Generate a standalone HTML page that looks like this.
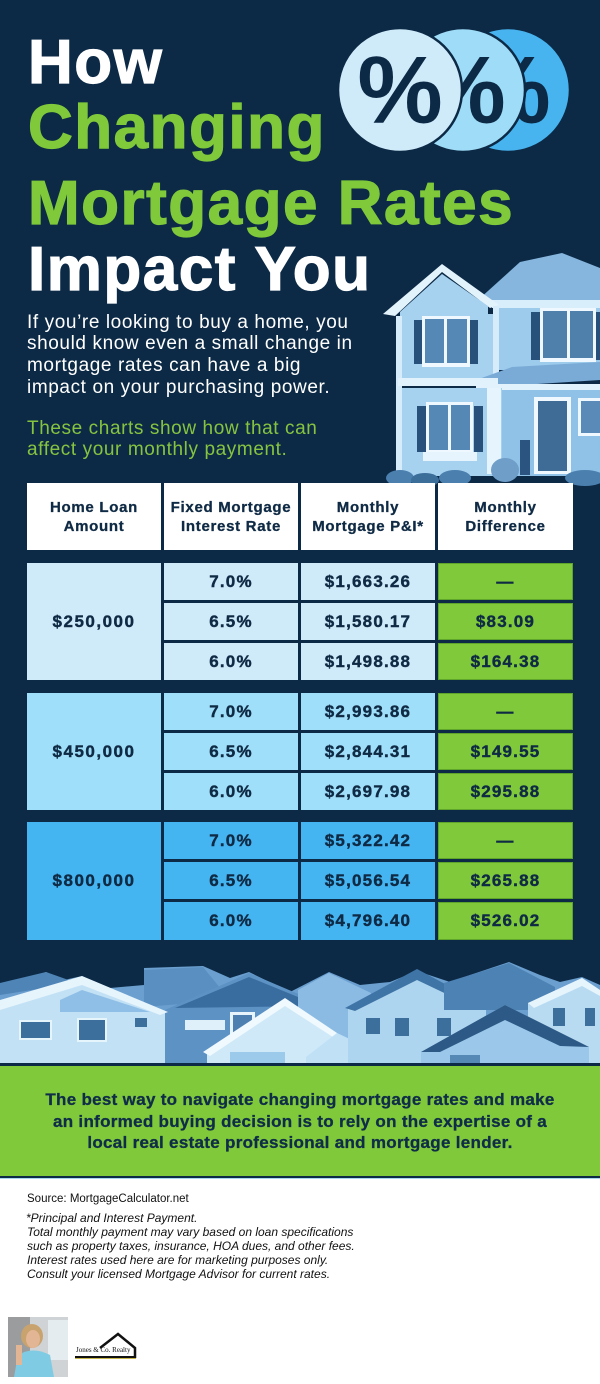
<!DOCTYPE html>
<html><head><meta charset="utf-8">
<style>
*{margin:0;padding:0;box-sizing:border-box}
html,body{width:600px;height:1384px;overflow:hidden}
body{position:relative;background:#0c2a46;font-family:"Liberation Sans",sans-serif}
.abs{position:absolute}
.t{position:absolute;left:28px;font-weight:bold;font-size:62px;line-height:62px;letter-spacing:1.5px;white-space:nowrap;-webkit-text-stroke:1.2px currentColor}
.intro{position:absolute;left:27px;font-size:19px;line-height:21.7px;letter-spacing:0.6px;white-space:nowrap}
.c{position:absolute;display:flex;align-items:center;justify-content:center;text-align:center;color:#0f2a44;font-weight:bold}
.h{background:#fff;font-size:15px;line-height:19px;letter-spacing:0.7px;top:483px;height:67px;-webkit-text-stroke:0.3px #0f2a44}
.d{font-size:17px;letter-spacing:1.2px;-webkit-text-stroke:0.4px #0f2a44}
.b1{background:#cfeaf8}.b2{background:#a0dff9}.b3{background:#45b5f2}
.g{background:#7fc93a;box-shadow:inset 0 0 0 1px #5fa52c}
.banner{position:absolute;left:0;top:1066px;width:600px;height:110px;background:#80c93b;color:#0f2d48;font-weight:bold;font-size:17px;line-height:21.5px;letter-spacing:0.3px;text-align:center;padding-top:23px;-webkit-text-stroke:0.3px #0f2d48}
.foot{position:absolute;left:0;top:1176px;width:600px;height:208px;background:#fff;border-top:2px solid #0c2a46}
.fl{position:absolute;left:27px;font-size:12px;line-height:14px;color:#111;white-space:nowrap}
</style></head><body>

<svg class="abs" style="left:0;top:0" width="600" height="1384" viewBox="0 0 600 1384">
<defs>
<clipPath id="k1"><circle cx="400" cy="90" r="62"/></clipPath>
<clipPath id="k2"><circle cx="463" cy="90" r="62"/></clipPath>
<clipPath id="k3"><circle cx="508" cy="90" r="62"/></clipPath>
</defs>
<!-- percent circles -->
<circle cx="508" cy="90" r="62" fill="#47b4f0" stroke="#0c2a46" stroke-width="2.5"/>
<text x="508" y="123" font-family="Liberation Sans" font-weight="bold" font-size="96" text-anchor="middle" fill="#0c2a46" clip-path="url(#k3)">%</text>
<circle cx="463" cy="90" r="62" fill="#9fdcf7" stroke="#0c2a46" stroke-width="2.5"/>
<text x="463" y="123" font-family="Liberation Sans" font-weight="bold" font-size="96" text-anchor="middle" fill="#0c2a46" clip-path="url(#k2)">%</text>
<circle cx="400" cy="90" r="62" fill="#cfeaf9" stroke="#0c2a46" stroke-width="2.5"/>
<text x="400" y="123" font-family="Liberation Sans" font-weight="bold" font-size="96" text-anchor="middle" fill="#0c2a46" clip-path="url(#k1)">%</text>

<!-- House -->
<polygon points="478,300 520,262 562,253 600,268 600,302 478,304" fill="#86b6de"/>
<rect x="497" y="300" width="103" height="70" fill="#9ccbec"/>
<rect x="492" y="300" width="108" height="8" fill="#d9eefb"/>
<polygon points="383,314 442,264 499,305 490,308 442,272 395,316" fill="#e3f3fc"/>
<polygon points="400,312 442,274 488,306 488,316 400,316" fill="#a6d2f0"/>
<rect x="400" y="314" width="96" height="70" fill="#a6d2f0"/>
<rect x="396" y="316" width="6" height="160" fill="#d6ecfa"/>
<rect x="493" y="306" width="6" height="76" fill="#d6ecfa"/>
<polygon points="476,380 512,367 600,362 600,380 476,388" fill="#7aaad6"/>
<rect x="398" y="378" width="100" height="8" fill="#e1f2fc"/>
<rect x="476" y="384" width="124" height="7" fill="#e1f2fc"/>
<rect x="402" y="388" width="100" height="88" fill="#a6d2f0"/>
<rect x="502" y="390" width="98" height="86" fill="#90c2e7"/>
<rect x="487" y="388" width="14" height="86" fill="#e6f5fd"/>
<!-- upper left window -->
<rect x="414" y="320" width="9" height="44" fill="#27507a"/>
<rect x="469" y="320" width="9" height="44" fill="#27507a"/>
<rect x="422" y="316" width="48" height="51" fill="#eef8fe"/>
<rect x="425" y="319" width="19" height="44" fill="#5688b6"/>
<rect x="447" y="319" width="20" height="44" fill="#5688b6"/>
<!-- upper right window -->
<rect x="531" y="312" width="10" height="48" fill="#27507a"/>
<rect x="540" y="308" width="56" height="54" fill="#eef8fe"/>
<rect x="543" y="311" width="24" height="47" fill="#4f7fab"/>
<rect x="570" y="311" width="23" height="47" fill="#4f7fab"/>
<rect x="596" y="312" width="4" height="48" fill="#27507a"/>
<!-- lower left window -->
<rect x="417" y="406" width="9" height="46" fill="#27507a"/>
<rect x="474" y="406" width="9" height="46" fill="#27507a"/>
<rect x="426" y="402" width="47" height="52" fill="#eef8fe"/>
<rect x="429" y="405" width="19" height="45" fill="#5688b6"/>
<rect x="451" y="405" width="19" height="45" fill="#5688b6"/>
<rect x="423" y="452" width="54" height="9" fill="#e6f5fd"/>
<!-- door -->
<rect x="534" y="397" width="37" height="77" fill="#eef8fe"/>
<rect x="538" y="401" width="29" height="70" fill="#3f6c96"/>
<rect x="578" y="398" width="22" height="38" fill="#eef8fe"/>
<rect x="581" y="401" width="19" height="32" fill="#5a8bb8"/>
<!-- shrubs -->
<ellipse cx="400" cy="478" rx="14" ry="8" fill="#4b7fae"/>
<ellipse cx="425" cy="480" rx="14" ry="7" fill="#3c6e9a"/>
<ellipse cx="455" cy="478" rx="16" ry="8" fill="#4b7fae"/>
<ellipse cx="505" cy="470" rx="14" ry="12" fill="#6f9ec8"/>
<rect x="520" y="440" width="10" height="35" fill="#2b5580"/>
<ellipse cx="585" cy="478" rx="20" ry="8" fill="#4b7fae"/>

<!-- Houses row -->
<path d="M0,1066 L0,988 L46,972 L64,980 L82,976 L110,988 L144,985 L144,968 L203,966 L230,978 L249,972 L290,992 L329,972 L360,985 L390,982 L417,971 L450,982 L470,975 L509,962 L540,975 L560,982 L582,977 L600,985 L600,1066 Z" fill="#6b9fcf"/>
<polygon points="0,983 46,972 77,983 0,995" fill="#4f84b7"/>
<polygon points="144,1007 144,970 203,967 230,1000" fill="#5a8fc2"/>
<polygon points="165,1010 249,973 329,1007 329,1066 165,1066" fill="#5d92c5"/>
<polygon points="175,1008 249,977 320,1006" fill="#3a6d9f"/>
<rect x="185" y="1020" width="40" height="10" fill="#dff0fb"/>
<rect x="230" y="1012" width="25" height="25" fill="#e7f4fc"/>
<rect x="233" y="1015" width="19" height="19" fill="#4d80b0"/>
<polygon points="298,990 329,973 371,993 371,1066 298,1066" fill="#8bbbe3"/>
<!-- front-left big house -->
<polygon points="0,1008 82,979 165,1012 165,1066 0,1066" fill="#c2e1f5"/>
<polygon points="0,1000 82,976 168,1012 160,1015 82,985 0,1010" fill="#e6f4fc"/>
<polygon points="60,1000 82,990 150,1012 60,1012" fill="#8fbfe6"/>
<rect x="19" y="1020" width="33" height="20" fill="#e6f4fc"/>
<rect x="21" y="1022" width="29" height="16" fill="#3d6f9c"/>
<rect x="77" y="1018" width="30" height="24" fill="#e6f4fc"/>
<rect x="79" y="1020" width="26" height="20" fill="#3d6f9c"/>
<rect x="135" y="1018" width="12" height="9" fill="#3d6f9c"/>
<!-- front center -->
<polygon points="207,1053 285,1002 337,1037 337,1066 207,1066" fill="#cfe9f8"/>
<polygon points="203,1052 285,998 340,1035 336,1039 285,1006 210,1056" fill="#f0f9fe"/>
<rect x="230" y="1052" width="55" height="14" fill="#9ccaea"/>
<polygon points="306,1057 337,1033 373,1050 373,1066 306,1066" fill="#bfe0f5"/>
<!-- G -->
<polygon points="348,1007 417,972 486,1008 486,1066 348,1066" fill="#aed5f0"/>
<polygon points="345,1008 417,969 490,1008 480,1010 417,980 355,1011" fill="#3f74a6"/>
<rect x="366" y="1018" width="14" height="16" fill="#3d6f9c"/>
<rect x="395" y="1018" width="14" height="18" fill="#3d6f9c"/>
<rect x="437" y="1018" width="14" height="18" fill="#3d6f9c"/>
<!-- H -->
<polygon points="444,983 509,963 555,987 555,1010 444,1010" fill="#4d82b4"/>
<!-- J -->
<polygon points="528,1003 582,978 600,990 600,1066 528,1066" fill="#b8dbf2"/>
<polygon points="528,1003 582,978 600,990 600,996 582,986 534,1008" fill="#e6f4fc"/>
<rect x="553" y="1008" width="12" height="18" fill="#3d6f9c"/>
<rect x="585" y="1008" width="10" height="18" fill="#3d6f9c"/>
<!-- I dark roof -->
<polygon points="421,1052 505,1005 589,1047 589,1066 421,1066" fill="#9bc8ea"/>
<polygon points="421,1052 505,1005 589,1047 560,1046 505,1020 440,1052" fill="#2c5985"/>
<rect x="450" y="1055" width="30" height="11" fill="#5688b6"/>
<rect x="0" y="1063" width="600" height="3" fill="#0c2a46"/>
</svg>

<div class="t" style="top:31.5px;color:#fff">How</div>
<div class="t" style="top:96.5px;color:#7fc93a">Changing</div>
<div class="t" style="top:172.5px;color:#7fc93a">Mortgage Rates</div>
<div class="t" style="top:238.5px;color:#fff">Impact You</div>

<div class="intro" style="top:311.6px;color:#fff">If you’re looking to buy a home, you<br>should know even a small change in<br>mortgage rates can have a big<br>impact on your purchasing power.</div>
<div class="intro" style="top:417.6px;color:#86c440">These charts show how that can<br>affect your monthly payment.</div>

<!-- table header -->
<div class="c h" style="left:27px;width:134px">Home Loan<br>Amount</div>
<div class="c h" style="left:164px;width:134px">Fixed Mortgage<br>Interest Rate</div>
<div class="c h" style="left:301px;width:134px">Monthly<br>Mortgage P&amp;I*</div>
<div class="c h" style="left:438px;width:135px">Monthly<br>Difference</div>

<!-- block 1 -->
<div class="c d b1" style="left:27px;top:563px;width:134px;height:117px;letter-spacing:1.5px">$250,000</div>
<div class="c d b1" style="left:164px;top:563px;width:134px;height:37px">7.0%</div>
<div class="c d b1" style="left:301px;top:563px;width:134px;height:37px">$1,663.26</div>
<div class="c d g" style="left:438px;top:563px;width:135px;height:37px">—</div>
<div class="c d b1" style="left:164px;top:603px;width:134px;height:37px">6.5%</div>
<div class="c d b1" style="left:301px;top:603px;width:134px;height:37px">$1,580.17</div>
<div class="c d g" style="left:438px;top:603px;width:135px;height:37px">$83.09</div>
<div class="c d b1" style="left:164px;top:643px;width:134px;height:37px">6.0%</div>
<div class="c d b1" style="left:301px;top:643px;width:134px;height:37px">$1,498.88</div>
<div class="c d g" style="left:438px;top:643px;width:135px;height:37px">$164.38</div>

<!-- block 2 -->
<div class="c d b2" style="left:27px;top:693px;width:134px;height:117px;letter-spacing:1.5px">$450,000</div>
<div class="c d b2" style="left:164px;top:693px;width:134px;height:37px">7.0%</div>
<div class="c d b2" style="left:301px;top:693px;width:134px;height:37px">$2,993.86</div>
<div class="c d g" style="left:438px;top:693px;width:135px;height:37px">—</div>
<div class="c d b2" style="left:164px;top:733px;width:134px;height:37px">6.5%</div>
<div class="c d b2" style="left:301px;top:733px;width:134px;height:37px">$2,844.31</div>
<div class="c d g" style="left:438px;top:733px;width:135px;height:37px">$149.55</div>
<div class="c d b2" style="left:164px;top:773px;width:134px;height:37px">6.0%</div>
<div class="c d b2" style="left:301px;top:773px;width:134px;height:37px">$2,697.98</div>
<div class="c d g" style="left:438px;top:773px;width:135px;height:37px">$295.88</div>

<!-- block 3 -->
<div class="c d b3" style="left:27px;top:822px;width:134px;height:118px;letter-spacing:1.5px">$800,000</div>
<div class="c d b3" style="left:164px;top:822px;width:134px;height:37px">7.0%</div>
<div class="c d b3" style="left:301px;top:822px;width:134px;height:37px">$5,322.42</div>
<div class="c d g" style="left:438px;top:822px;width:135px;height:37px">—</div>
<div class="c d b3" style="left:164px;top:862px;width:134px;height:37px">6.5%</div>
<div class="c d b3" style="left:301px;top:862px;width:134px;height:37px">$5,056.54</div>
<div class="c d g" style="left:438px;top:862px;width:135px;height:37px">$265.88</div>
<div class="c d b3" style="left:164px;top:902px;width:134px;height:38px">6.0%</div>
<div class="c d b3" style="left:301px;top:902px;width:134px;height:38px">$4,796.40</div>
<div class="c d g" style="left:438px;top:902px;width:135px;height:38px">$526.02</div>

<div class="banner">The best way to navigate changing mortgage rates and make<br>an informed buying decision is to rely on the expertise of a<br>local real estate professional and mortgage lender.</div>

<div class="foot"><div style="height:1px;background:#a9d8ee"></div></div>
<div class="fl" style="top:1192px;font-size:11.5px">Source: MortgageCalculator.net</div>
<div class="fl" style="top:1211px;left:26px;font-style:italic">*Principal and Interest Payment.</div>
<div class="fl" style="top:1225px;font-style:italic">Total monthly payment may vary based on loan specifications</div>
<div class="fl" style="top:1239px;font-style:italic">such as property taxes, insurance, HOA dues, and other fees.</div>
<div class="fl" style="top:1253px;font-style:italic">Interest rates used here are for marketing purposes only.</div>
<div class="fl" style="top:1267px;font-style:italic">Consult your licensed Mortgage Advisor for current rates.</div>

<svg class="abs" style="left:0;top:1310px" width="140" height="74" viewBox="0 1310 140 74">
<rect x="8" y="1317" width="60" height="60" fill="#cfd3d6"/>
<rect x="8" y="1317" width="22" height="60" fill="#9a9c9e"/>
<rect x="48" y="1320" width="20" height="40" fill="#e4ecef"/>
<ellipse cx="32" cy="1336" rx="11" ry="12" fill="#c9a36e"/>
<ellipse cx="33" cy="1339" rx="7" ry="9" fill="#e2b595"/>
<path d="M14,1377 L18,1355 Q33,1346 50,1355 L54,1377 Z" fill="#7fcbe3"/>
<rect x="16" y="1345" width="6" height="20" fill="#e2b595"/>
<polyline points="100,1348 118,1334 135,1348 135,1358" fill="none" stroke="#111" stroke-width="2.5"/>
<text x="76" y="1352" font-family="Liberation Serif" font-size="7" fill="#111">Jones &amp; Co. Realty</text>
<rect x="75" y="1356" width="61" height="2" fill="#111"/>
<rect x="75" y="1358" width="61" height="1" fill="#c8b64a"/>
</svg>
</body></html>
